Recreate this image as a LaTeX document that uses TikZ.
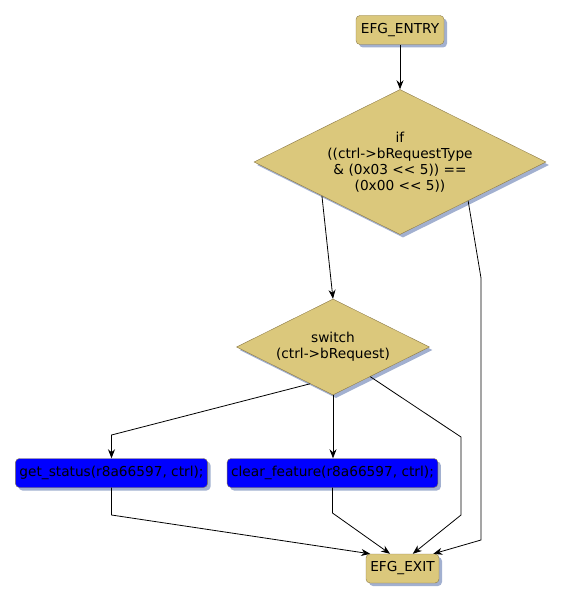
\documentclass[tikz,border=0pt]{standalone}
\usepackage{fontspec}
\setmainfont{DejaVu Sans}
\usetikzlibrary{shapes.geometric,shadows,arrows.meta,calc}

\definecolor{khaki}{RGB}{219,200,124}
\definecolor{khakiline}{RGB}{140,122,72}
\definecolor{shadowblue}{RGB}{162,176,208}

\tikzset{
  block/.style={draw=khakiline, fill=khaki, rounded corners=4pt,
    minimum height=29pt, inner sep=4pt,
    drop shadow={shadow xshift=3pt, shadow yshift=-3pt, fill=shadowblue, opacity=1}},
  callblock/.style={block, fill=blue},
  test/.style={diamond, shape aspect=2, draw=khakiline, fill=khaki, inner sep=0pt, align=center,
    drop shadow={shadow xshift=3pt, shadow yshift=-3pt, fill=shadowblue, opacity=1}},
  flow/.style={-{Stealth[length=9pt,width=7pt]}, line width=0.8pt}
}

\begin{document}
\begin{tikzpicture}[x=1pt, y=-1pt, font=\fontsize{13.7}{16}\selectfont]
\useasboundingbox (0,0) rectangle (565,602);

% nodes
\node[block, minimum width=88pt] (entry) at (400,30) {EFG\_ENTRY};
\node[test, minimum width=292pt, minimum height=145pt] (ifn) at (400,162)
  {if\\((ctrl->bRequestType\\\& (0x03 {<}{<} 5)) ==\\(0x00 {<}{<} 5))};
\node[test, minimum width=193pt, minimum height=96pt] (sw) at (333,347)
  {switch\\(ctrl->bRequest)};
\node[callblock, minimum width=191pt] (getst) at (111.5,473) {get\_status(r8a66597, ctrl);};
\node[callblock, minimum width=209pt] (clrft) at (332.5,473) {clear\_feature(r8a66597, ctrl);};
\node[block, minimum width=73pt] (exit) at (402.5,568.5) {EFG\_EXIT};

% bends
\coordinate (ifa) at (481,278);
\coordinate (ifb) at (481,540);
\coordinate (swa) at (461,437);
\coordinate (swb) at (461,515);
\coordinate (gsa) at (111.5,435);
\coordinate (gsb) at (111.5,515);
\coordinate (cfb) at (332.5,513);

% edges
\draw[flow] (entry) -- (ifn);
\draw[flow] ($(ifn.west)!0.466!(ifn.south)$) -- (sw.north);
\draw[flow] ($(ifn.east)!0.534!(ifn.south)$) -- (ifa) -- (ifb)
  -- ($(exit.north west)!0.92!(exit.north east)$);
\draw[flow] ($(sw.west)!0.763!(sw.south)$) -- (gsa) -- (getst.north);
\draw[flow] (sw.south) -- (sw.south |- clrft.north);
\draw[flow] ($(sw.east)!0.615!(sw.south)$) -- (swa) -- (swb)
  -- ($(exit.north west)!0.64!(exit.north east)$);
\draw[flow] (getst.south) -- (gsb) -- ($(exit.north west)!0.06!(exit.north east)$);
\draw[flow] (clrft.south) -- (cfb) -- ($(exit.north west)!0.33!(exit.north east)$);
\end{tikzpicture}
\end{document}
